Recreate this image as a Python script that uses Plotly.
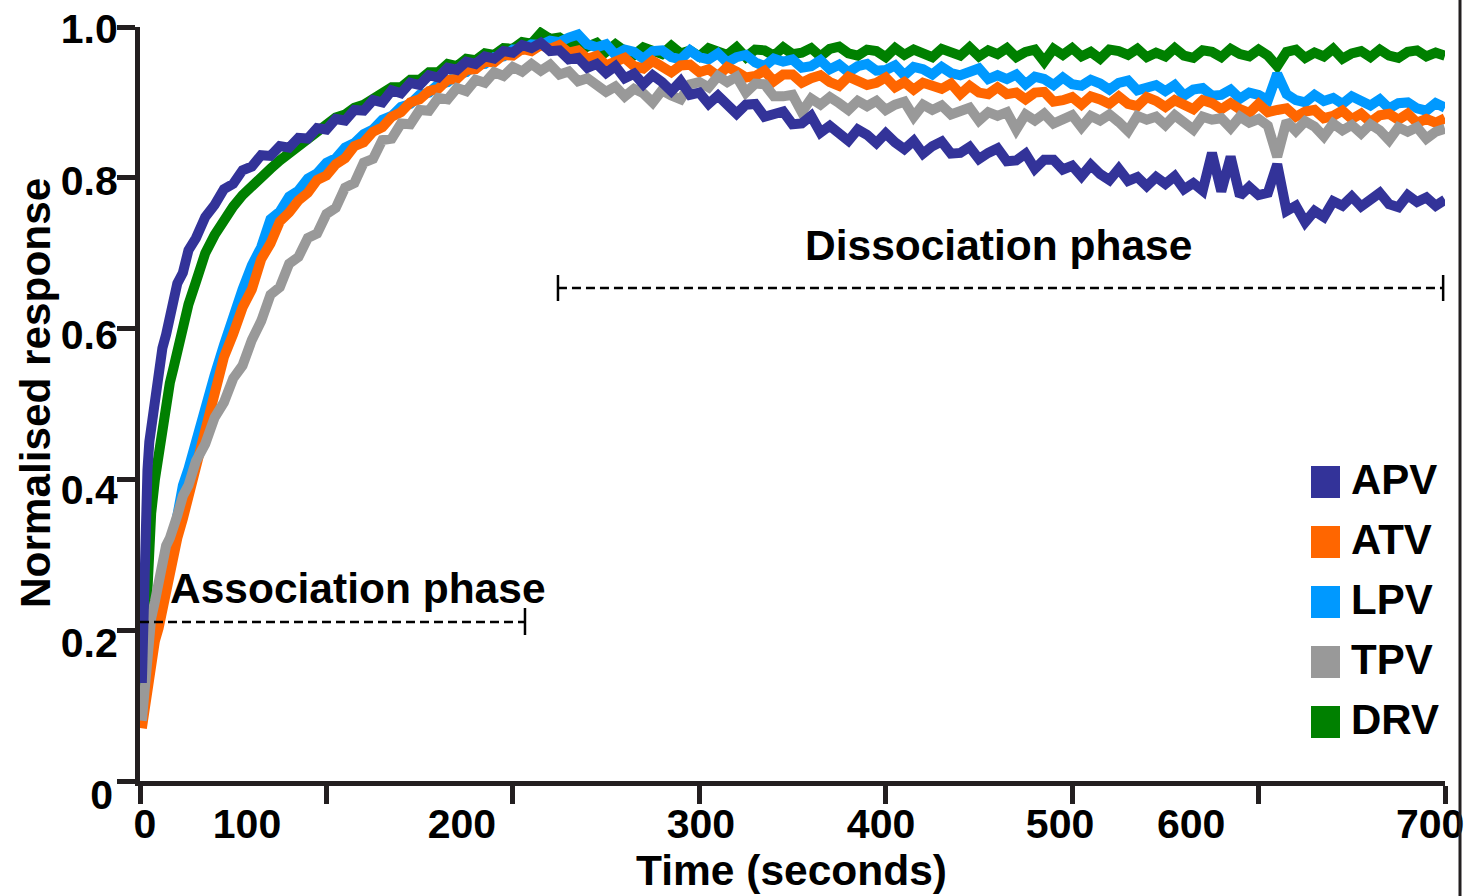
import plotly.graph_objects as go

# ---------------- data ----------------
T_EARLY = [1, 2, 3, 4, 5, 6, 8, 10, 12, 14, 16, 18, 20, 23, 26, 30, 35, 40]
TIME_S = T_EARLY + list(range(45, 701, 5))

APV = [0.13, 0.29, 0.368, 0.412, 0.45, 0.47, 0.518, 0.542, 0.574, 0.592, 0.62, 0.632, 0.66, 0.674, 0.704, 0.72, 0.748, 0.764,
       0.785, 0.792, 0.81, 0.815, 0.83, 0.829, 0.842, 0.84, 0.853, 0.852,
       0.866, 0.864, 0.878, 0.876, 0.89, 0.889, 0.903, 0.9, 0.916, 0.912,
       0.926, 0.923, 0.936, 0.933, 0.946, 0.943, 0.954, 0.951, 0.961, 0.958,
       0.968, 0.966, 0.976, 0.972, 0.979, 0.968, 0.969, 0.957, 0.959, 0.946,
       0.951, 0.939, 0.948, 0.932, 0.938, 0.924, 0.936, 0.927, 0.915, 0.928,
       0.910, 0.913, 0.898, 0.909, 0.896, 0.885, 0.897, 0.898, 0.881, 0.884,
       0.888, 0.871, 0.872, 0.882, 0.860, 0.869, 0.859, 0.849, 0.864, 0.857,
       0.846, 0.859, 0.847, 0.838, 0.849, 0.832, 0.842, 0.848, 0.832, 0.833,
       0.841, 0.825, 0.833, 0.839, 0.822, 0.823, 0.832, 0.812, 0.824, 0.824,
       0.811, 0.816, 0.802, 0.817, 0.805, 0.797, 0.812, 0.796, 0.801, 0.789,
       0.801, 0.792, 0.802, 0.785, 0.793, 0.783, 0.833, 0.782, 0.828, 0.776,
       0.788, 0.777, 0.780, 0.818, 0.756, 0.763, 0.741, 0.756, 0.748, 0.769,
       0.763, 0.775, 0.762, 0.772, 0.780, 0.765, 0.761, 0.777, 0.768, 0.774,
       0.763, 0.771]

ATV = [0.07, 0.088, 0.11, 0.128, 0.146, 0.158, 0.186, 0.203, 0.228, 0.248, 0.277, 0.298, 0.322, 0.348, 0.377, 0.413, 0.467, 0.508,
       0.562, 0.593, 0.628, 0.652, 0.692, 0.713, 0.742, 0.754, 0.77, 0.78,
       0.797, 0.803, 0.818, 0.826, 0.842, 0.847, 0.861, 0.867, 0.881, 0.887,
       0.9, 0.904, 0.915, 0.918, 0.93, 0.931, 0.943, 0.944, 0.954, 0.953,
       0.963, 0.962, 0.971, 0.968, 0.976, 0.971, 0.976, 0.966, 0.969, 0.958,
       0.962, 0.949, 0.955, 0.959, 0.948, 0.945, 0.955, 0.947, 0.940, 0.949,
       0.950, 0.940, 0.944, 0.935, 0.947, 0.941, 0.933, 0.935, 0.942, 0.928,
       0.937, 0.937, 0.926, 0.932, 0.936, 0.927, 0.922, 0.934, 0.930, 0.923,
       0.926, 0.933, 0.920, 0.927, 0.917, 0.926, 0.922, 0.918, 0.925, 0.911,
       0.922, 0.913, 0.911, 0.920, 0.911, 0.913, 0.904, 0.913, 0.914, 0.901,
       0.903, 0.907, 0.897, 0.908, 0.904, 0.898, 0.908, 0.898, 0.895, 0.907,
       0.902, 0.894, 0.903, 0.897, 0.891, 0.903, 0.899, 0.891, 0.899, 0.891,
       0.886, 0.898, 0.887, 0.890, 0.892, 0.881, 0.888, 0.890, 0.879, 0.882,
       0.889, 0.878, 0.885, 0.874, 0.883, 0.885, 0.877, 0.885, 0.873, 0.878,
       0.873, 0.879]

LPV = [0.08, 0.10, 0.118, 0.135, 0.152, 0.165, 0.19, 0.218, 0.238, 0.272, 0.3, 0.338, 0.358, 0.392, 0.414, 0.452, 0.494, 0.538,
       0.578, 0.618, 0.652, 0.684, 0.708, 0.745, 0.755, 0.775, 0.783, 0.799,
       0.806, 0.82, 0.826, 0.84, 0.846, 0.858, 0.864, 0.877, 0.882, 0.894,
       0.898, 0.91, 0.913, 0.924, 0.927, 0.937, 0.94, 0.95, 0.951, 0.96,
       0.961, 0.97, 0.97, 0.977, 0.976, 0.982, 0.98, 0.986, 0.99, 0.977,
       0.973, 0.977, 0.963, 0.970, 0.967, 0.958, 0.968, 0.969, 0.960, 0.957,
       0.969, 0.960, 0.957, 0.965, 0.953, 0.960, 0.963, 0.953, 0.948, 0.958,
       0.954, 0.957, 0.946, 0.948, 0.956, 0.944, 0.950, 0.940, 0.948, 0.951,
       0.942, 0.943, 0.949, 0.936, 0.947, 0.944, 0.937, 0.947, 0.939, 0.936,
       0.942, 0.945, 0.931, 0.936, 0.931, 0.937, 0.924, 0.934, 0.931, 0.923,
       0.933, 0.924, 0.922, 0.930, 0.925, 0.917, 0.926, 0.929, 0.916, 0.919,
       0.923, 0.915, 0.923, 0.909, 0.917, 0.919, 0.909, 0.910, 0.917, 0.905,
       0.913, 0.910, 0.903, 0.938, 0.911, 0.903, 0.900, 0.910, 0.902, 0.906,
       0.898, 0.908, 0.902, 0.896, 0.904, 0.892, 0.899, 0.900, 0.892, 0.889,
       0.899, 0.893]

TPV = [0.08, 0.112, 0.138, 0.172, 0.188, 0.216, 0.238, 0.268, 0.287, 0.312, 0.322, 0.343, 0.352, 0.378, 0.392, 0.424, 0.447, 0.482,
       0.502, 0.534, 0.551, 0.585, 0.61, 0.645, 0.655, 0.686, 0.695, 0.72,
       0.726, 0.752, 0.76, 0.787, 0.793, 0.82, 0.825, 0.85, 0.852, 0.872,
       0.871, 0.89, 0.889, 0.906, 0.904, 0.919, 0.915, 0.93, 0.926, 0.94,
       0.935, 0.947, 0.941, 0.951, 0.942, 0.95, 0.937, 0.941, 0.928, 0.932,
       0.922, 0.914, 0.921, 0.908, 0.918, 0.912, 0.900, 0.916, 0.909, 0.904,
       0.924, 0.927, 0.920, 0.935, 0.927, 0.934, 0.913, 0.925, 0.924, 0.908,
       0.908, 0.910, 0.887, 0.905, 0.897, 0.907, 0.899, 0.890, 0.902, 0.895,
       0.902, 0.890, 0.897, 0.901, 0.881, 0.897, 0.890, 0.896, 0.884, 0.888,
       0.893, 0.876, 0.887, 0.882, 0.887, 0.864, 0.884, 0.876, 0.885, 0.872,
       0.879, 0.883, 0.867, 0.882, 0.876, 0.884, 0.874, 0.862, 0.882, 0.877,
       0.881, 0.870, 0.883, 0.874, 0.864, 0.881, 0.877, 0.879, 0.866, 0.881,
       0.873, 0.878, 0.869, 0.828, 0.875, 0.862, 0.875, 0.868, 0.855, 0.872,
       0.863, 0.870, 0.859, 0.871, 0.863, 0.850, 0.867, 0.861, 0.867, 0.852,
       0.861, 0.865]

DRV = [0.10, 0.15, 0.21, 0.27, 0.318, 0.355, 0.4, 0.438, 0.472, 0.498, 0.528, 0.548, 0.572, 0.602, 0.632, 0.662, 0.7, 0.724,
       0.746, 0.762, 0.777, 0.79, 0.802, 0.812, 0.823, 0.832, 0.843, 0.85,
       0.86, 0.867, 0.88, 0.884, 0.893, 0.897, 0.905, 0.91, 0.92, 0.92,
       0.93, 0.93, 0.94, 0.94, 0.951, 0.948, 0.958, 0.956, 0.965, 0.963,
       0.972, 0.971, 0.98, 0.978, 0.992, 0.984, 0.986, 0.978, 0.982, 0.974,
       0.979, 0.967, 0.977, 0.968, 0.963, 0.973, 0.969, 0.964, 0.975, 0.965,
       0.969, 0.961, 0.972, 0.968, 0.963, 0.973, 0.960, 0.970, 0.969, 0.962,
       0.973, 0.964, 0.966, 0.972, 0.961, 0.971, 0.974, 0.965, 0.962, 0.970,
       0.968, 0.960, 0.972, 0.963, 0.970, 0.965, 0.960, 0.971, 0.968, 0.962,
       0.973, 0.961, 0.969, 0.964, 0.972, 0.960, 0.967, 0.970, 0.954, 0.971,
       0.963, 0.972, 0.961, 0.967, 0.958, 0.970, 0.968, 0.963, 0.971, 0.960,
       0.966, 0.961, 0.972, 0.962, 0.959, 0.969, 0.967, 0.960, 0.971, 0.964,
       0.961, 0.970, 0.962, 0.948, 0.967, 0.970, 0.959, 0.966, 0.961, 0.971,
       0.958, 0.965, 0.968, 0.960, 0.970, 0.962, 0.959, 0.967, 0.969, 0.961,
       0.966, 0.962]

SERIES = {"APV": APV, "ATV": ATV, "LPV": LPV, "TPV": TPV, "DRV": DRV}
LEGEND_ORDER = ["APV", "ATV", "LPV", "TPV", "DRV"]
DRAW_ORDER = ["DRV", "LPV", "ATV", "TPV", "APV"]
COLORS = {"APV": "#333399", "ATV": "#ff6600", "LPV": "#0099ff",
          "TPV": "#999999", "DRV": "#008000"}

X_TICKS = [0, 100, 200, 300, 400, 500, 600, 700]
X_TICK_LABELS = ["0", "100", "200", "300", "400", "500", "600", "700"]
X_LABEL_POS = [2.7, 57.4, 172.7, 300.9, 397.5, 493.5, 563.8, 692.0]
Y_TICKS = [0, 0.2, 0.4, 0.6, 0.8, 1.0]
Y_TICK_LABELS = ["0", "0.2", "0.4", "0.6", "0.8", "1.0"]

ASSOC_PHASE = [0, 206.5]       # seconds
DISSOC_PHASE = [224.2, 699.0]  # seconds

# ---------------- figure geometry / style ----------------
W, H = 1464, 896
L, R, T, B = 140, 19, 27, 115
PW, PH = W - L - R, H - T - B
FONT = "Liberation Sans, Arial, sans-serif"
INK = "#231f20"
# the original figure's y tick labels sit slightly below their ticks
Y_LABEL_CENTER_PX = [795, 643, 490, 335, 181, 29]
Y2_RANGE = [-0.1, 1.0]


def px_x(px):
    return (px - L) / PW


def px_y(py):
    return (H - B - py) / PH


def y2_value(py):
    # the overlay axis spans the same pixels as y: 0 at the x axis, 1 at the top
    return Y2_RANGE[0] + px_y(py) * (Y2_RANGE[1] - Y2_RANGE[0])


def bold(size):
    return dict(family=FONT, size=size, color="black", weight="bold")


fig = go.Figure()
for name in DRAW_ORDER:
    fig.add_trace(go.Scatter(
        x=TIME_S, y=SERIES[name], mode="lines", name=name,
        line=dict(color=COLORS[name], width=10),
        showlegend=False, hoverinfo="skip"))

# invisible traces so the label-only axes are instantiated
fig.add_trace(go.Scatter(x=X_LABEL_POS, y=[None] * len(X_LABEL_POS),
                         xaxis="x2", mode="lines", showlegend=False, hoverinfo="skip"))
fig.add_trace(go.Scatter(x=[None] * len(Y_TICKS), y=Y_TICKS,
                         yaxis="y2", mode="lines", showlegend=False, hoverinfo="skip"))

fig.update_layout(
    width=W, height=H, autosize=False,
    margin=dict(l=L, r=R, t=T, b=B, pad=0, autoexpand=False),
    paper_bgcolor="white", plot_bgcolor="white",
    font=bold(41),
    showlegend=False,
    xaxis=dict(
        range=[0, 700], tickvals=X_TICKS, showticklabels=False,
        ticks="outside", ticklen=18, tickwidth=4.5, tickcolor=INK,
        showline=True, linewidth=4.5, linecolor=INK,
        showgrid=False, zeroline=False, automargin=False,
    ),
    xaxis2=dict(
        range=[0, 700], overlaying="x", anchor="y", side="bottom",
        tickvals=X_LABEL_POS, ticktext=X_TICK_LABELS,
        ticks="outside", ticklen=7, tickwidth=1, tickcolor="rgba(0,0,0,0)",
        showline=False, showgrid=False, zeroline=False, automargin=False,
        ticklabeloverflow="allow",
        tickfont=bold(41),
    ),
    # main y axis: ticks + line, and the "0" label (sitting below its tick like the original)
    yaxis=dict(
        range=[0, 1.0], tickvals=Y_TICKS,
        ticktext=[Y_TICK_LABELS[0]] + [""] * (len(Y_TICK_LABELS) - 1),
        ticks="outside", ticklen=18, tickwidth=4.5, tickcolor=INK,
        showline=True, linewidth=4.5, linecolor=INK,
        showgrid=False, zeroline=False, automargin=False,
        ticklabeloverflow="allow",
        ticklabelshift=Y_LABEL_CENTER_PX[0] - (H - B),
        ticklabelstandoff=-4,
        tickfont=bold(41),
    ),
    # label-only overlay axis for the remaining y tick labels
    yaxis2=dict(
        range=Y2_RANGE, overlaying="y", anchor="x", side="left",
        tickvals=[y2_value(p) for p in Y_LABEL_CENTER_PX[1:]],
        ticktext=Y_TICK_LABELS[1:],
        ticks="outside", ticklen=13, tickwidth=1, tickcolor="rgba(0,0,0,0)",
        showline=False, showgrid=False, zeroline=False, automargin=False,
        ticklabeloverflow="allow",
        tickfont=bold(41),
    ),
)

shapes = []
annotations = []

# axis titles
annotations.append(dict(text="Time (seconds)", xref="paper", yref="paper",
                        x=px_x(791), y=px_y(896), xanchor="center", yanchor="bottom",
                        showarrow=False, font=bold(42.5)))
annotations.append(dict(text="Normalised response", xref="paper", yref="paper",
                        x=px_x(35), y=px_y(393), textangle=-90,
                        xanchor="center", yanchor="middle", showarrow=False,
                        font=bold(42.3)))

# phase brackets
assoc_y = px_y(622)
dissoc_y = px_y(288)
shapes.append(dict(type="line", xref="x", yref="paper",
                   x0=ASSOC_PHASE[0], x1=ASSOC_PHASE[1], y0=assoc_y, y1=assoc_y,
                   line=dict(color="black", width=2.5, dash="9px,5px")))
shapes.append(dict(type="line", xref="x", yref="paper",
                   x0=ASSOC_PHASE[1], x1=ASSOC_PHASE[1], y0=px_y(635), y1=px_y(608),
                   line=dict(color="black", width=2.5)))
shapes.append(dict(type="line", xref="x", yref="paper",
                   x0=DISSOC_PHASE[0], x1=DISSOC_PHASE[1], y0=dissoc_y, y1=dissoc_y,
                   line=dict(color="black", width=2.5, dash="9px,5px")))
for xe in DISSOC_PHASE:
    shapes.append(dict(type="line", xref="x", yref="paper",
                       x0=xe, x1=xe, y0=px_y(301), y1=px_y(275),
                       line=dict(color="black", width=2.5)))

annotations.append(dict(text="Association phase", xref="paper", yref="paper",
                        x=px_x(358), y=px_y(588), xanchor="center", yanchor="middle",
                        showarrow=False, font=bold(42.5)))
annotations.append(dict(text="Dissociation phase", xref="paper", yref="paper",
                        x=px_x(998), y=px_y(245), xanchor="center", yanchor="middle",
                        showarrow=False, font=bold(42.5)))

# legend: coloured squares + labels
for i, name in enumerate(LEGEND_ORDER):
    cy = 482 + i * 60
    shapes.append(dict(type="rect", xref="paper", yref="paper",
                       x0=px_x(1311), x1=px_x(1340), y0=px_y(cy + 16), y1=px_y(cy - 16),
                       fillcolor=COLORS[name], line=dict(width=0)))
    annotations.append(dict(text=name, xref="paper", yref="paper",
                            x=px_x(1349), y=px_y(cy - 3), xanchor="left", yanchor="middle",
                            showarrow=False, font=bold(42)))

# right border line of the original figure
shapes.append(dict(type="line", xref="paper", yref="paper",
                   x0=px_x(1460), x1=px_x(1460), y0=px_y(H), y1=px_y(0),
                   line=dict(color=INK, width=3)))

fig.update_layout(shapes=shapes, annotations=annotations)

fig.write_html("out.html",
               config={"displayModeBar": False},
               post_script="document.documentElement.style.overflow='hidden';"
                           "document.body.style.margin='0';document.body.style.overflow='hidden';")
